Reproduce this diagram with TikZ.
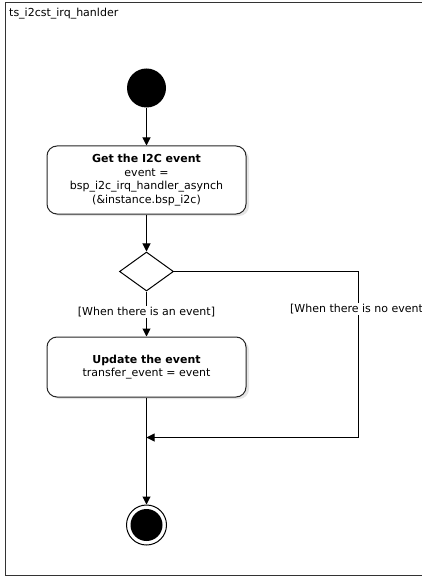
\documentclass[tikz,border=0pt]{standalone}
\usepackage{fontspec}
\setmainfont{DejaVu Sans}
\usetikzlibrary{arrows.meta,shapes.geometric}
\begin{document}
\begin{tikzpicture}[x=1pt,y=-1pt,
  every node/.style={font=\fontsize{11}{13.7}\selectfont},
  line/.style={draw=black,line width=1pt},
  arr/.style={line,-{Triangle[length=8pt,width=8pt]}},
  actbox/.style={draw=black!85,line width=1pt,rounded corners=10pt,fill=white,
    minimum width=199pt,align=center,inner sep=0pt},
  guard/.style={fill=white,inner sep=1pt}]
\useasboundingbox (0,0) rectangle (422,577);
\clip (0,0) rectangle (422,577);
\draw[draw=black!80,line width=1pt] (5.5,2.5) rectangle (440,575.5);
\node[anchor=west,inner sep=0pt] (title) at (9,14) {ts\_i2cst\_irq\_hanlder};
\fill[black!10,rounded corners=10pt] (50,149) rectangle (249,216);
\fill[black!10,rounded corners=10pt] (50,340) rectangle (249,399);
\node[circle,fill=black,minimum size=39pt,inner sep=0pt] (start) at (146.5,88) {};
\node[actbox,minimum height=68pt] (get) at (146.5,180)
  {\textbf{Get the I2C event}\\event =\\bsp\_i2c\_irq\_handler\_asynch\\(\&instance.bsp\_i2c)};
\node[diamond,draw=black,line width=1pt,minimum width=54pt,minimum height=39pt,inner sep=0pt,fill=white] (dec) at (146.5,271.5) {};
\node[actbox,minimum height=60pt] (upd) at (146.5,367)
  {\textbf{Update the event}\\transfer\_event = event};
\coordinate (corner1) at (358.5,271.5);
\coordinate (merge) at (146.5,437.5);
\coordinate (corner2) at (358.5,437.5);
\node[circle,draw=black,line width=1pt,minimum size=40pt,inner sep=0pt] (end) at (146.5,525) {};
\node[circle,fill=black,minimum size=32pt,inner sep=0pt] (endin) at (146.5,525) {};
\draw[arr] (start) -- (get);
\draw[arr] (get) -- (dec);
\draw[arr] (dec) -- (upd);
\draw[line] (dec.east) -- (corner1) -- (corner2);
\draw[arr] (corner2) -- (merge);
\draw[line] (upd) -- (merge);
\draw[arr] (merge) -- (end);
\node[guard] (g1) at (146.5,312) {[When there is an event]};
\node[guard,anchor=west] (g2) at (289,309) {[When there is no event};
\end{tikzpicture}
\end{document}
